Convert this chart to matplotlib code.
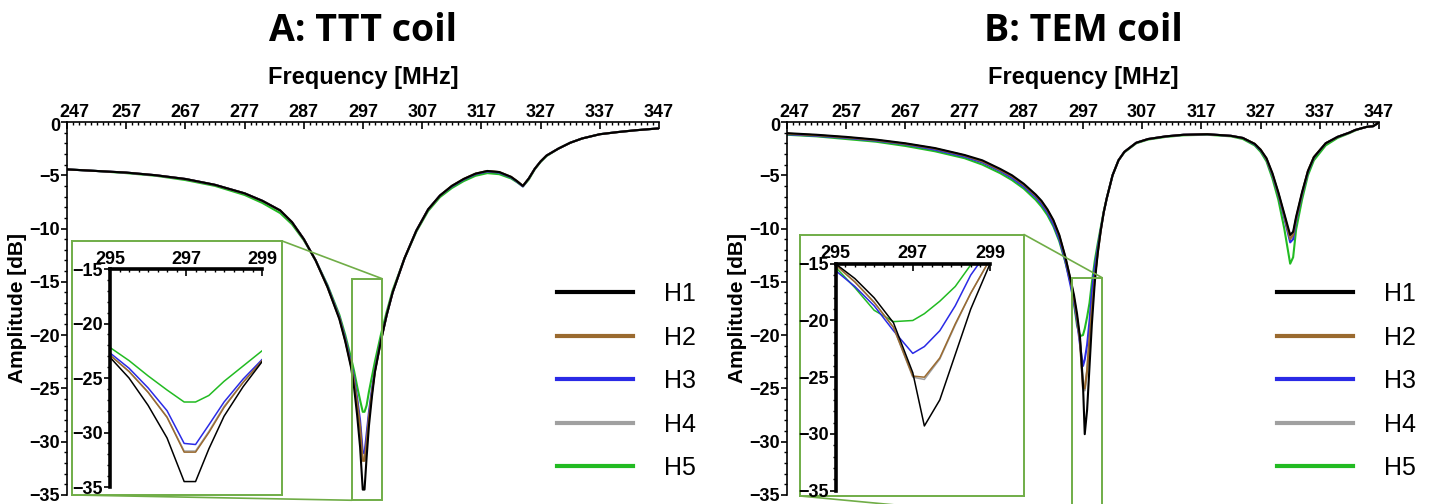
import matplotlib
matplotlib.use("Agg")
import matplotlib.pyplot as plt
from matplotlib.lines import Line2D
from matplotlib.patches import Rectangle, ConnectionPatch
from matplotlib.ticker import MultipleLocator
from matplotlib.transforms import ScaledTranslation

# ---- data ----
labels = ["H1", "H2", "H3", "H4", "H5"]
colors = ["#000000", "#9a6a2f", "#2a2ae6", "#a0a0a0", "#22bb22"]

# A: TTT coil
f_ttt = [247, 252, 257, 262, 267, 272, 277, 280, 283, 285, 287, 289, 291, 293, 294,
         295, 295.5, 296, 296.5, 296.95, 297.25, 297.6, 298, 298.5, 299,
         300, 301, 302, 304, 306, 308, 310, 312, 314, 316, 318, 320, 322, 323, 324,
         325, 326, 327, 328, 330, 332, 334, 337, 340, 343, 347]
ttt_h1 = [-4.45, -4.6, -4.75, -5.0, -5.35, -5.9, -6.7, -7.4, -8.3, -9.4, -11.0, -13.0, -15.5, -18.5, -20.6,
          -23.1, -25.0, -27.5, -30.5, -34.5, -34.5, -31.5, -28.5, -25.8, -23.5,
          -20.6, -18.1, -16.0, -12.8, -10.2, -8.2, -6.9, -6.0, -5.35, -4.85, -4.6, -4.7, -5.15, -5.55, -6.0,
          -5.3, -4.4, -3.7, -3.15, -2.5, -1.95, -1.55, -1.15, -0.95, -0.78, -0.6]
ttt_h2 = [-4.45, -4.6, -4.75, -5.0, -5.35, -5.9, -6.7, -7.4, -8.3, -9.4, -11.0, -13.0, -15.5, -18.4, -20.5,
          -22.9, -24.4, -26.3, -28.6, -31.8, -31.8, -30.0, -27.7, -25.4, -23.4,
          -20.6, -18.1, -16.0, -12.8, -10.2, -8.2, -6.9, -6.0, -5.35, -4.85, -4.6, -4.7, -5.15, -5.55, -6.0,
          -5.3, -4.4, -3.7, -3.15, -2.5, -1.95, -1.55, -1.15, -0.95, -0.78, -0.6]
ttt_h3 = [-4.45, -4.6, -4.75, -5.0, -5.35, -5.9, -6.7, -7.4, -8.3, -9.4, -11.0, -13.0, -15.4, -18.3, -20.3,
          -22.7, -24.1, -25.9, -28.0, -31.0, -31.1, -29.3, -27.2, -25.1, -23.3,
          -20.5, -18.1, -16.0, -12.8, -10.2, -8.2, -6.9, -6.05, -5.4, -4.9, -4.65, -4.75, -5.2, -5.6, -6.05,
          -5.3, -4.4, -3.7, -3.15, -2.5, -1.95, -1.55, -1.15, -0.95, -0.78, -0.6]
ttt_h4 = [-4.45, -4.6, -4.75, -5.0, -5.35, -5.9, -6.7, -7.4, -8.3, -9.4, -11.0, -13.0, -15.5, -18.4, -20.5,
          -22.9, -24.4, -26.3, -28.6, -31.7, -31.7, -29.9, -27.6, -25.4, -23.4,
          -20.6, -18.1, -16.0, -12.8, -10.2, -8.2, -6.9, -6.0, -5.35, -4.85, -4.6, -4.7, -5.15, -5.55, -6.0,
          -5.3, -4.4, -3.7, -3.15, -2.5, -1.95, -1.55, -1.15, -0.95, -0.78, -0.6]
ttt_h5 = [-4.45, -4.6, -4.8, -5.05, -5.45, -6.0, -6.85, -7.6, -8.55, -9.6, -11.1, -13.0, -15.3, -18.1, -20.0,
          -22.2, -23.4, -24.8, -26.1, -27.2, -27.2, -26.6, -25.3, -23.9, -22.5,
          -20.0, -17.8, -15.8, -12.8, -10.3, -8.35, -7.05, -6.2, -5.55, -5.05, -4.8, -4.9, -5.3, -5.65, -6.05,
          -5.4, -4.45, -3.75, -3.2, -2.5, -1.95, -1.55, -1.15, -0.95, -0.78, -0.6]

# B: TEM coil
f_tem = [247, 252, 257, 262, 267, 272, 277, 280, 283, 285, 287, 289, 290, 291, 292, 293, 294,
         295, 295.5, 296, 296.5, 297, 297.3, 297.7, 298.1, 298.5, 299,
         299.5, 300, 300.5, 301, 302, 303, 304, 306, 308, 311, 314, 318, 322, 324, 326, 327, 328,
         329, 330, 331, 332, 332.5, 333, 334, 335, 336, 338, 340, 342, 343, 344, 345, 346, 347]
tem_h1 = [-1.05, -1.2, -1.4, -1.65, -2.0, -2.45, -3.1, -3.6, -4.4, -5.0, -5.8, -6.8, -7.4, -8.2, -9.2, -10.6, -12.6,
          -15.0, -16.3, -18.0, -20.2, -24.6, -29.3, -27.0, -23.0, -19.0, -15.0,
          -12.3, -10.2, -8.5, -7.2, -5.0, -3.6, -2.8, -1.95, -1.6, -1.35, -1.2, -1.15, -1.3, -1.5, -2.05, -2.6, -3.4,
          -4.8, -6.6, -8.6, -10.6, -10.3, -8.9, -6.6, -4.6, -3.3, -2.0, -1.4, -1.0, -0.75, -0.6, -0.45, -0.4, -0.05]
tem_h2 = [-1.1, -1.25, -1.45, -1.7, -2.05, -2.5, -3.15, -3.7, -4.5, -5.1, -5.9, -6.9, -7.5, -8.3, -9.3, -10.7, -12.7,
          -15.1, -16.6, -18.4, -20.6, -24.9, -25.0, -23.3, -20.3, -17.6, -14.6,
          -12.2, -10.2, -8.5, -7.2, -5.0, -3.6, -2.8, -1.95, -1.6, -1.35, -1.2, -1.15, -1.3, -1.5, -2.05, -2.6, -3.45,
          -4.9, -6.7, -8.8, -11.0, -10.6, -9.1, -6.7, -4.6, -3.3, -2.0, -1.4, -1.0, -0.75, -0.6, -0.45, -0.4, -0.05]
tem_h3 = [-1.15, -1.3, -1.5, -1.75, -2.1, -2.6, -3.25, -3.8, -4.6, -5.25, -6.05, -7.05, -7.7, -8.5, -9.6, -11.0, -13.0,
          -15.6, -17.0, -18.7, -20.9, -22.9, -22.3, -20.9, -18.7, -16.0, -13.6,
          -11.8, -10.1, -8.5, -7.2, -5.0, -3.6, -2.8, -1.95, -1.6, -1.35, -1.2, -1.15, -1.3, -1.5, -2.1, -2.65, -3.5,
          -5.0, -6.8, -9.0, -11.3, -11.0, -9.3, -6.8, -4.7, -3.35, -2.0, -1.4, -1.0, -0.75, -0.6, -0.45, -0.4, -0.05]
tem_h4 = [-1.1, -1.25, -1.45, -1.7, -2.05, -2.5, -3.15, -3.7, -4.5, -5.1, -5.9, -6.9, -7.5, -8.3, -9.3, -10.7, -12.7,
          -15.1, -16.6, -18.4, -20.6, -25.0, -25.2, -23.4, -20.4, -17.6, -14.6,
          -12.2, -10.2, -8.5, -7.2, -5.0, -3.6, -2.8, -1.95, -1.6, -1.35, -1.2, -1.15, -1.3, -1.5, -2.05, -2.6, -3.45,
          -4.9, -6.7, -8.7, -10.9, -10.5, -9.0, -6.7, -4.6, -3.3, -2.0, -1.4, -1.0, -0.75, -0.6, -0.45, -0.4, -0.05]
tem_h5 = [-1.2, -1.35, -1.6, -1.85, -2.25, -2.75, -3.4, -4.0, -4.8, -5.45, -6.25, -7.3, -7.95, -8.75, -9.8, -11.2, -13.1,
          -15.3, -17.1, -19.1, -20.1, -20.0, -19.4, -18.3, -17.0, -15.1, -13.0,
          -11.4, -9.9, -8.4, -7.2, -5.0, -3.6, -2.85, -2.0, -1.65, -1.4, -1.25, -1.2, -1.35, -1.6, -2.2, -2.8, -3.7,
          -5.3, -7.3, -10.0, -13.3, -12.7, -10.1, -7.3, -5.0, -3.6, -2.2, -1.5, -1.05, -0.8, -0.6, -0.45, -0.4, -0.05]

ttt_series = [ttt_h1, ttt_h2, ttt_h3, ttt_h4, ttt_h5]
tem_series = [tem_h1, tem_h2, tem_h3, tem_h4, tem_h5]

x_ticks = [247, 257, 267, 277, 287, 297, 307, 317, 327, 337, 347]
y_ticks = [0, -5, -10, -15, -20, -25, -30, -35]
inset_xticks = [295, 297, 299]
inset_yticks = [-15, -20, -25, -30, -35]

GREEN = "#70ad47"

fig = plt.figure(figsize=(14.29, 5.04), dpi=100)


def style_axis(ax, size, minor_x, minor_y, spine_w):
    ax.xaxis.tick_top()
    ax.spines["right"].set_visible(False)
    ax.spines["bottom"].set_visible(False)
    ax.spines["top"].set_linewidth(spine_w)
    ax.spines["left"].set_linewidth(spine_w)
    ax.xaxis.set_minor_locator(MultipleLocator(minor_x))
    ax.yaxis.set_minor_locator(MultipleLocator(minor_y))
    ax.tick_params(axis="x", which="major", direction="in", length=5, width=1.2, pad=1, labelsize=size)
    ax.tick_params(axis="x", which="minor", direction="in", length=2.5, width=1)
    ax.tick_params(axis="y", which="major", direction="out", length=4, width=1.2, pad=1, labelsize=size)
    ax.tick_params(axis="y", which="minor", direction="out", length=2.5, width=1)
    for lab in ax.get_xticklabels() + ax.get_yticklabels():
        lab.set_fontfamily("Liberation Sans")
        lab.set_fontweight("bold")


def panel(x0, title, freqs, series, box, inset_pos, zoom_rect):
    ax = fig.add_axes([x0, 0.018, 0.4143, 0.740])
    for vals, c in reversed(list(zip(series, colors))):
        ax.plot(freqs, vals, color=c, lw=1.5)
    ax.set_xlim(247, 347)
    ax.set_ylim(-35, 0)
    ax.set_xticks(x_ticks)
    ax.set_yticks(y_ticks)
    style_axis(ax, 13, 1, 1, 1.2)
    # nudge the corner labels apart like in the original
    first_x = ax.get_xticklabels()[0]
    first_x.set_transform(first_x.get_transform() + ScaledTranslation(7 / 100, 0, fig.dpi_scale_trans))
    first_y = ax.get_yticklabels()[0]
    first_y.set_transform(first_y.get_transform() + ScaledTranslation(0, -3 / 100, fig.dpi_scale_trans))

    ax.set_ylabel("Amplitude [dB]", fontsize=15, fontweight="bold", family="Liberation Sans", labelpad=2)
    ax.set_xlabel("Frequency [MHz]", fontsize=17, fontweight="bold", family="Liberation Sans", labelpad=14)
    ax.xaxis.set_label_position("top")
    ax.set_title(title, fontsize=27, fontweight="bold", family="Open Sans", pad=58)

    # zoom rectangle in main plot
    rx, ry, rw, rh = zoom_rect
    ax.add_patch(Rectangle((rx, ry), rw, rh, fill=False, ec=GREEN, lw=1.4, clip_on=False, zorder=5))

    # white frame behind inset
    box_ax = fig.add_axes(box, zorder=3)
    box_ax.set_xticks([])
    box_ax.set_yticks([])
    for s in box_ax.spines.values():
        s.set_color(GREEN)
        s.set_linewidth(1.4)

    ins = fig.add_axes(inset_pos, zorder=4)
    ins.patch.set_alpha(0)
    for vals, c in reversed(list(zip(series, colors))):
        ins.plot(freqs, vals, color=c, lw=1.1)
    ins.set_xlim(295, 299)
    ins.set_ylim(-35, -15)
    ins.set_xticks(inset_xticks)
    ins.set_yticks(inset_yticks)
    style_axis(ins, 13, 0.25, 1, 2.6)

    # connector lines
    c1 = ConnectionPatch(xyA=(1, 1), coordsA=box_ax.transAxes, xyB=(rx + rw, ry + rh), coordsB=ax.transData,
                         color=GREEN, lw=1.2, zorder=2)
    c2 = ConnectionPatch(xyA=(0, 0), coordsA=box_ax.transAxes, xyB=(rx, ry), coordsB=ax.transData,
                         color=GREEN, lw=1.2, zorder=2)
    fig.add_artist(c1)
    fig.add_artist(c2)

    handles = [Line2D([], [], color=c, lw=3) for c in colors]
    ax.legend(handles, labels, loc="upper left", bbox_to_anchor=(x0 + 0.3428, 0.440),
              bbox_transform=fig.transFigure, frameon=False, borderpad=0, borderaxespad=0,
              handlelength=3.05, handletextpad=1.25, labelspacing=0.78,
              prop={"family": "Liberation Sans", "size": 18})
    return ax


panel(0.0469, "A: TTT coil", f_ttt, ttt_series,
      [0.0504, 0.0179, 0.147, 0.504], [0.077, 0.0337, 0.1064, 0.4325],
      (295.1, -35.5, 5.1, 20.8))
panel(0.5507, "B: TEM coil", f_tem, tem_series,
      [0.5598, 0.0159, 0.1568, 0.5188], [0.5847, 0.0266, 0.1081, 0.450],
      (295.1, -37.5, 5.1, 22.9))

fig.savefig("out.png", dpi=100)
